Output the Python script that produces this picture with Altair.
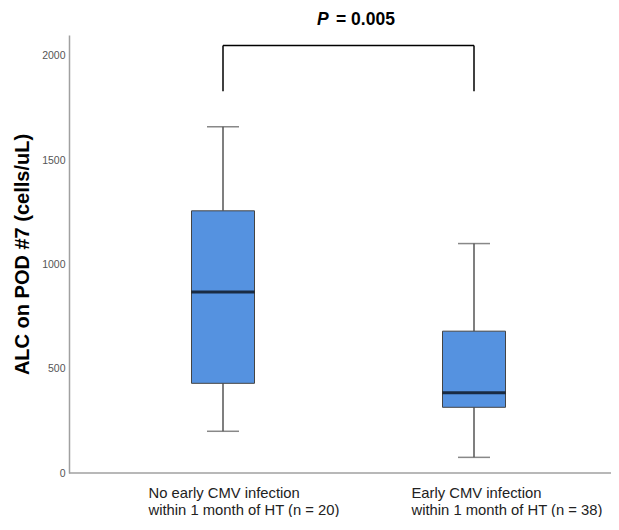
import altair as alt
import pandas as pd

groups = ["No early CMV infection\nwithin 1 month of HT (n = 20)",
          "Early CMV infection\nwithin 1 month of HT (n = 38)"]
whisker_low = [200, 75]
q1 = [430, 315]
median = [868, 385]
q3 = [1257, 680]
whisker_high = [1660, 1100]
y_ticks = [0, 500, 1000, 1500, 2000]

bracket_low = 1830
bracket_top = 2050
p_label = "= 0.005"

df = pd.DataFrame({"group": groups, "lo": whisker_low, "q1": q1, "med": median,
                   "q3": q3, "hi": whisker_high})

xscale = alt.Scale(type="point", domain=groups, range=[154, 405], padding=0)
first = groups[0].replace("\n", "\\n")
x = alt.X("group:N", scale=xscale,
          axis=alt.Axis(title=None, ticks=False, domain=False,
                        labelAngle=0, labelAlign="left", labelBaseline="top", labelLimit=0,
                        labelExpr="split(datum.label, '\\n')",
                        labelOffset=alt.condition(f"datum.value == '{first}'",
                                                  alt.value(-75), alt.value(-63)),
                        labelPadding=12, labelLineHeight=17.5, labelFontSize=14.8,
                        labelFont="Liberation Sans", labelColor="#222"))
yscale = alt.Scale(domain=[0, 2100], nice=False)
y_axis = alt.Axis(title="ALC on POD #7 (cells/uL)", ticks=False, format="d", grid=False,
                  values=y_ticks, domainColor="#a0a0a0", domainWidth=1.5,
                  labelFont="Liberation Sans", labelFontSize=10.5, labelColor="#555",
                  labelPadding=4, titleFont="Liberation Sans", titleFontSize=20,
                  titleFontWeight="bold", titleColor="#000", titlePadding=9)

base = alt.Chart(df)

baseline = alt.Chart(pd.DataFrame({"v": [0]})).mark_rule(color="#a0a0a0", strokeWidth=1.5).encode(
    y=alt.Y("v:Q", scale=yscale, axis=y_axis))
whisk_lo = base.mark_rule(color="#555", strokeWidth=1.5).encode(
    x=x, y=alt.Y("lo:Q", scale=yscale), y2="q1:Q")
whisk_hi = base.mark_rule(color="#555", strokeWidth=1.5).encode(
    x=x, y=alt.Y("q3:Q", scale=yscale), y2="hi:Q")
cap_lo = base.mark_tick(color="#555", size=32, thickness=1.5, orient="horizontal").encode(
    x=x, y=alt.Y("lo:Q", scale=yscale))
cap_hi = base.mark_tick(color="#555", size=32, thickness=1.5, orient="horizontal").encode(
    x=x, y=alt.Y("hi:Q", scale=yscale))
box = base.mark_bar(size=63, color="#5592e0", stroke="#444", strokeWidth=1).encode(
    x=x, y=alt.Y("q1:Q", scale=yscale), y2="q3:Q")
med = base.mark_tick(color="#000", size=63, thickness=3, orient="horizontal").encode(
    x=x, y=alt.Y("med:Q", scale=yscale))

br = pd.DataFrame({"group": groups, "lo": [bracket_low] * 2, "top": [bracket_top] * 2})
br_v = alt.Chart(br).mark_rule(color="#000", strokeWidth=1.5).encode(
    x=x, y=alt.Y("lo:Q", scale=yscale), y2="top:Q")
br_h = alt.Chart(pd.DataFrame({"group": [groups[0]], "b": [groups[1]], "top": [bracket_top]})).mark_rule(
    color="#000", strokeWidth=1.5).encode(
    x=x, x2="b:N", y=alt.Y("top:Q", scale=yscale))

ptxt = alt.Chart(pd.DataFrame({"group": [groups[0]]})).mark_text(
    text="P", font="Liberation Sans", fontSize=17.5, fontWeight="bold", fontStyle="italic",
    align="left", baseline="middle", dx=94, color="#000").encode(x=x, y=alt.value(-15))
vtxt = alt.Chart(pd.DataFrame({"group": [groups[0]]})).mark_text(
    text=p_label, font="Liberation Sans", fontSize=17.5, fontWeight="bold",
    align="left", baseline="middle", dx=113, color="#000").encode(x=x, y=alt.value(-15))

chart = alt.layer(baseline, whisk_lo, whisk_hi, cap_lo, cap_hi, box, med, br_v, br_h, ptxt, vtxt).properties(
    width=542, height=438, autosize=alt.AutoSizeParams(type="none"), background="white",
    padding={"left": 61, "top": 27, "right": 0, "bottom": 44}
).configure_view(stroke=None)

chart.save("out.html", embed_options={"renderer": "svg", "actions": False})
